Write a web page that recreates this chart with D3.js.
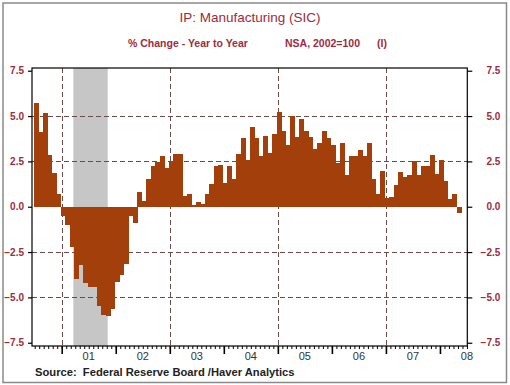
<!DOCTYPE html>
<html>
<head>
<meta charset="utf-8">
<script src="https://cdn.jsdelivr.net/npm/d3@7"></script>
<style>
  body { margin: 0; background: #fff; }
  svg { display: block; }
</style>
</head>
<body>
<div id="chart"></div>
<script>
// Monthly % change year to year, first value is Jul 2000
const firstYear = 2000;
const firstMonth = 6; // 0-based: July
const values = [
  5.7, 4.1, 5.15, 2.85, 1.84, 0.68,
  -0.52, -1.0, -2.2, -4.0, -3.2, -4.2, -4.45, -4.45, -5.5, -5.95, -6.05, -5.65,
  -4.14, -3.77, -3.16, -0.5, -0.88, 0.79, 0.31, 1.53, 2.24, 2.48, 2.8, 2.15,
  2.52, 2.89, 2.89, 0.61, 0.7, 0.08, 0.28, 0.17, 0.68, 1.23, 2.24, 2.3,
  1.29, 2.24, 1.51, 2.89, 3.77, 2.58, 4.41, 3.8, 2.8, 3.92, 2.98, 4.0,
  5.2, 4.2, 3.42, 5.02, 3.85, 4.83, 4.18, 3.83, 3.2, 3.5, 4.17, 3.77,
  3.4, 2.4, 3.5, 1.73, 2.78, 2.78, 3.13, 2.8, 3.5, 1.53, 0.68, 1.95,
  0.5, 0.55, 1.2, 1.9, 1.62, 1.77, 2.54, 1.75, 2.22, 2.24, 2.85, 1.82,
  2.58, 1.42, 0.4, 0.69, -0.32
];
const yTicks = [-7.5, -5.0, -2.5, 0.0, 2.5, 5.0, 7.5];
const gridValues = [-5.0, -2.5, 2.5, 5.0];
const yearTicks = [2001, 2002, 2003, 2004, 2005, 2006, 2007, 2008];
const yearLabels = ["01", "02", "03", "04", "05", "06", "07", "08"];
const gridYears = [2001, 2003, 2005, 2007];
// recession (fractional years)
const recession = [2001.215, 2001.851];

const width = 510, height = 385;
const plot = { left: 32, right: 467.3, top: 68, bottom: 346 };
const barColour = "#a33f0b";
const labelColour = "#9e2b3e";
const gridColour = "#6e4b4b";

const svg = d3.select("#chart").append("svg")
  .attr("width", width)
  .attr("height", height)
  .attr("font-family", "Liberation Sans, Arial, sans-serif");

const x = d3.scaleLinear().domain([2000.45, 2008.506]).range([plot.left, plot.right]);
const y = d3.scaleLinear().domain([-7.68, 7.65]).range([plot.bottom, plot.top]);

const data = values.map((v, i) => ({
  t: firstYear + (firstMonth + i) / 12,
  value: v
}));

// outer border
svg.append("rect")
  .attr("x", 3).attr("y", 3)
  .attr("width", 503.5).attr("height", 379.5)
  .attr("fill", "none")
  .attr("stroke", "#8a8a8a")
  .attr("stroke-width", 1.5);

// titles
svg.append("text")
  .attr("x", 250).attr("y", 22)
  .attr("text-anchor", "middle")
  .attr("font-size", "13.5px")
  .attr("fill", labelColour)
  .text("IP: Manufacturing (SIC)");

svg.append("text")
  .attr("x", 128).attr("y", 47)
  .attr("font-size", "10.5px")
  .attr("font-weight", "bold")
  .attr("fill", labelColour)
  .text("% Change - Year to Year");

svg.append("text")
  .attr("x", 285).attr("y", 47)
  .attr("font-size", "10.5px")
  .attr("font-weight", "bold")
  .attr("fill", labelColour)
  .text("NSA, 2002=100");

svg.append("text")
  .attr("x", 377).attr("y", 47)
  .attr("font-size", "10.5px")
  .attr("font-weight", "bold")
  .attr("fill", labelColour)
  .text("(I)");

// recession shading
svg.append("rect")
  .attr("x", x(recession[0]))
  .attr("y", plot.top)
  .attr("width", x(recession[1]) - x(recession[0]))
  .attr("height", plot.bottom - plot.top)
  .attr("fill", "#c6c6c6");

// dashed grid
svg.append("g")
  .selectAll("line")
  .data(gridValues)
  .join("line")
  .attr("x1", plot.left).attr("x2", plot.right)
  .attr("y1", d => Math.round(y(d)) + 0.5).attr("y2", d => Math.round(y(d)) + 0.5)
  .attr("stroke", gridColour)
  .attr("stroke-width", 1)
  .attr("stroke-dasharray", "5,3");

svg.append("g")
  .selectAll("line")
  .data(gridYears)
  .join("line")
  .attr("x1", d => Math.round(x(d)) + 0.5).attr("x2", d => Math.round(x(d)) + 0.5)
  .attr("y1", plot.top).attr("y2", plot.bottom)
  .attr("stroke", gridColour)
  .attr("stroke-width", 1)
  .attr("stroke-dasharray", "5,3");

// bars
const shift = -1 / 54; // bars sit a pixel left of the month start
svg.append("g")
  .attr("shape-rendering", "crispEdges")
  .selectAll("rect")
  .data(data)
  .join("rect")
  .attr("x", d => x(d.t + shift))
  .attr("width", d => x(d.t + shift + 1 / 12) - x(d.t + shift) + 0.4)
  .attr("y", d => y(Math.max(0, d.value)))
  .attr("height", d => Math.abs(y(d.value) - y(0)))
  .attr("fill", barColour);

// frame
svg.append("rect")
  .attr("x", plot.left).attr("y", plot.top)
  .attr("width", plot.right - plot.left)
  .attr("height", plot.bottom - plot.top)
  .attr("fill", "none")
  .attr("stroke", "#000")
  .attr("stroke-width", 1.2);

// left and right y axes
const yAxisLeft = d3.axisLeft(y).tickValues(yTicks).tickSize(4).tickPadding(4)
  .tickFormat(d3.format(".1f"));
const yAxisRight = d3.axisRight(y).tickValues(yTicks).tickSize(5).tickPadding(13)
  .tickFormat(d3.format(".1f"));

function styleY(g) {
  g.select(".domain").remove();
  g.selectAll(".tick line").attr("stroke", "#000").attr("stroke-width", 1.2);
  g.selectAll(".tick text")
    .attr("fill", labelColour)
    .attr("font-size", "10px")
    .attr("font-weight", "bold")
    .attr("font-family", "Liberation Sans, Arial, sans-serif");
}

svg.append("g")
  .attr("transform", `translate(${plot.left},0)`)
  .call(yAxisLeft)
  .call(styleY);

svg.append("g")
  .attr("transform", `translate(${plot.right},0)`)
  .call(yAxisRight)
  .call(styleY)
  .call(g => g.selectAll(".tick text").attr("text-anchor", "end").attr("x", 33));

// bottom axis: monthly minor ticks, yearly major ticks, labels mid-year
const monthTicks = d3.range(0, data.length + 6).map(i => firstYear + (firstMonth - 1 + i) / 12)
  .filter(t => t > x.domain()[0] && t < x.domain()[1]);

svg.append("g")
  .attr("transform", `translate(0,${plot.bottom})`)
  .call(d3.axisBottom(x).tickValues(monthTicks).tickSize(3).tickFormat(""))
  .call(g => g.select(".domain").remove())
  .call(g => g.selectAll(".tick line").attr("stroke", "#000"));

svg.append("g")
  .attr("transform", `translate(0,${plot.bottom})`)
  .call(d3.axisBottom(x).tickValues(yearTicks).tickSize(8).tickFormat(""))
  .call(g => g.select(".domain").remove())
  .call(g => g.selectAll(".tick line").attr("stroke", "#000").attr("stroke-width", 1.6));

svg.append("g")
  .selectAll("text")
  .data(yearTicks)
  .join("text")
  .attr("x", (d, i) => x(d + 0.5))
  .attr("y", 360)
  .attr("text-anchor", "middle")
  .attr("font-size", "11px")
  .attr("fill", "#333")
  .text((d, i) => yearLabels[i]);

// source
svg.append("text")
  .attr("x", 35).attr("y", 376)
  .attr("font-size", "11.2px")
  .attr("font-weight", "bold")
  .attr("fill", "#222")
  .attr("xml:space", "preserve")
  .style("white-space", "pre")
  .text("Source:  Federal Reserve Board /Haver Analytics");
</script>
</body>
</html>
